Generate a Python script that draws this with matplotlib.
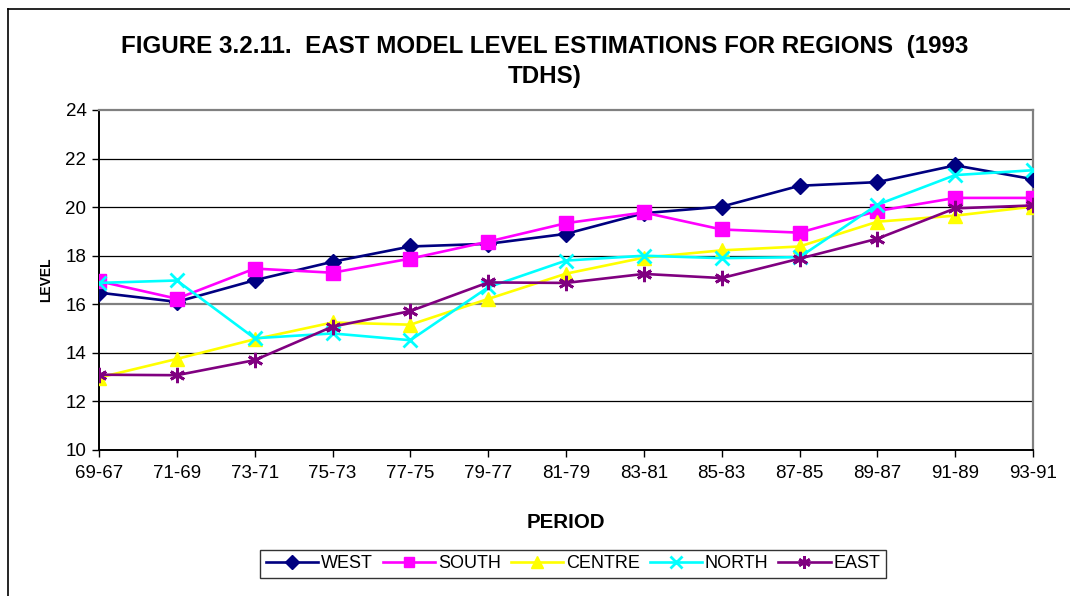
import matplotlib
matplotlib.use("Agg")
import matplotlib.pyplot as plt
from matplotlib.lines import Line2D

plt.rcParams['font.family'] = ['Liberation Sans', 'DejaVu Sans']

periods = ['69-67', '71-69', '73-71', '75-73', '77-75', '79-77', '81-79',
           '83-81', '85-83', '87-85', '89-87', '91-89', '93-91']

west = [16.48, 16.10, 16.99, 17.75, 18.38, 18.49, 18.90, 19.75, 20.02,
        20.88, 21.03, 21.72, 21.15]
south = [16.95, 16.23, 17.47, 17.30, 17.88, 18.58, 19.34, 19.78, 19.08,
         18.95, 19.84, 20.38, 20.38]
centre = [12.98, 13.75, 14.56, 15.25, 15.16, 16.22, 17.26, 17.92, 18.22,
          18.38, 19.40, 19.65, 20.02]
north = [16.88, 16.98, 14.60, 14.80, 14.52, 16.70, 17.80, 18.00, 17.90,
         17.94, 20.10, 21.32, 21.52]
east = [13.10, 13.08, 13.70, 15.08, 15.72, 16.90, 16.88, 17.25, 17.08,
        17.88, 18.70, 19.95, 20.07]

fig = plt.figure(figsize=(10.7, 5.96), dpi=100)
ax = fig.add_axes([99 / 1070, 1 - 450 / 596, (1033 - 99) / 1070, 340 / 596])

x = range(len(periods))
lw = 1.9
ax.plot(x, west, color='#000080', lw=lw, marker='D', ms=8.5,
        mec='#000080', mfc='#000080', label='WEST', zorder=3)
ax.plot(x, south, color='#FF00FF', lw=lw, marker='s', ms=9.5,
        mec='#FF00FF', mfc='#FF00FF', label='SOUTH', zorder=4)
ax.plot(x, centre, color='#FFFF00', lw=lw, marker='^', ms=10,
        mec='#FFFF00', mfc='#FFFF00', label='CENTRE', zorder=5)
ax.plot(x, north, color='#00FFFF', lw=lw, marker='x', ms=10, mew=2,
        mec='#00FFFF', label='NORTH', zorder=6)
ax.plot(x, east, color='#800080', lw=lw, marker=(6, 2, 0), ms=11, mew=2,
        mec='#800080', label='EAST', zorder=7)

ax.set_xlim(0, len(periods) - 1)
ax.set_ylim(10, 24)
ax.set_yticks(range(10, 25, 2))
ax.set_xticks(list(x))
ax.set_xticklabels(periods)

# horizontal gridlines
for yv in range(12, 24, 2):
    if yv == 16:
        ax.axhline(yv, color='#808080', lw=1.6, zorder=1)
    else:
        ax.axhline(yv, color='black', lw=0.9, zorder=1)

for side in ['left', 'bottom']:
    ax.spines[side].set_color('black')
    ax.spines[side].set_linewidth(1.4)
for side in ['top', 'right']:
    ax.spines[side].set_color('#808080')
    ax.spines[side].set_linewidth(1.6)

ax.tick_params(axis='both', direction='out', length=5, width=1,
               labelsize=13.5, colors='black')
ax.tick_params(axis='x', pad=6)
ax.tick_params(axis='y', pad=4)

ax.set_ylabel('LEVEL', fontsize=10, fontweight='bold', labelpad=9)
fig.text(566 / 1070, 1 - 522 / 596, 'PERIOD', fontsize=14.8,
         fontweight='bold', ha='center', va='center')

fig.text(545 / 1070, 1 - 46 / 596,
         'FIGURE 3.2.11.  EAST MODEL LEVEL ESTIMATIONS FOR REGIONS  (1993',
         fontsize=17.4, fontweight='bold', ha='center', va='center')
fig.text(545 / 1070, 1 - 77 / 596, 'TDHS)', fontsize=17.4,
         fontweight='bold', ha='center', va='center')

leg = fig.legend(loc='center', bbox_to_anchor=(573 / 1070, 1 - 564 / 596),
                 ncol=5, frameon=True, fancybox=False, fontsize=13,
                 handlelength=2.9, columnspacing=0.55, handletextpad=0.15,
                 borderpad=0.3, edgecolor='black', markerscale=0.8)
leg.get_frame().set_linewidth(1.0)

# outer chart frame
fig.add_artist(Line2D([8 / 1070, 8 / 1070], [0, 1 - 9 / 596],
                      transform=fig.transFigure, color='black', lw=1.2))
fig.add_artist(Line2D([8 / 1070, 1], [1 - 9 / 596, 1 - 9 / 596],
                      transform=fig.transFigure, color='black', lw=1.2))

fig.savefig('out.png', dpi=100)
